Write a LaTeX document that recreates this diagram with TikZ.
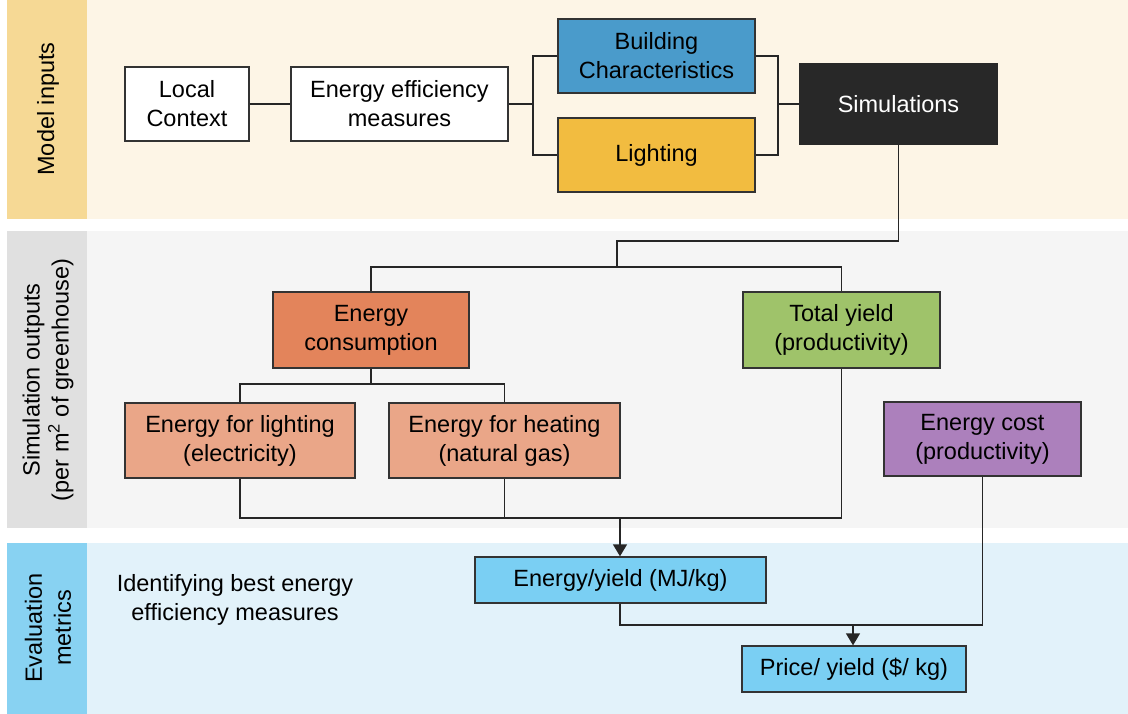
\documentclass[tikz,border=0pt]{standalone}
\usepackage{fontspec}
\setmainfont{Liberation Sans}
\usetikzlibrary{arrows.meta}
\definecolor{bandAmain}{HTML}{FDF5E6}
\definecolor{bandAstrip}{HTML}{F6D995}
\definecolor{bandBmain}{HTML}{F5F5F5}
\definecolor{bandBstrip}{HTML}{E0E0E0}
\definecolor{bandCmain}{HTML}{E2F2FA}
\definecolor{bandCstrip}{HTML}{88D2F2}
\definecolor{cBlue}{HTML}{4A9BCB}
\definecolor{cYellow}{HTML}{F2BC40}
\definecolor{cBlack}{HTML}{282828}
\definecolor{cOrange}{HTML}{E3845B}
\definecolor{cSalmon}{HTML}{EAA688}
\definecolor{cGreen}{HTML}{9FC36A}
\definecolor{cPurple}{HTML}{AC80BC}
\definecolor{cSky}{HTML}{7ACFF3}
\definecolor{cEdge}{HTML}{333333}
\tikzset{
  box/.style={draw=cEdge, line width=1.3pt, align=center, inner sep=0pt,
    font=\fontsize{23.5pt}{29pt}\selectfont, text=black},
  conn/.style={draw=black!85, line width=1.4pt},
  arr/.style={conn, -{Triangle[width=14pt,length=12pt]}},
  bandlabel/.style={rotate=90, align=center, font=\fontsize{23.5pt}{29pt}\selectfont},
  plaintext/.style={align=center, font=\fontsize{23.5pt}{29pt}\selectfont}
}
\begin{document}
\begin{tikzpicture}[x=1pt,y=-1pt]
\useasboundingbox (0,0) rectangle (1128,714);
\fill[white] (0,0) rectangle (1128,714);
% bands
\fill[bandAmain] (87,0) rectangle (1128,219);
\fill[bandAstrip] (7,0) rectangle (87,219);
\fill[bandBmain] (87,231) rectangle (1128,528);
\fill[bandBstrip] (7,231) rectangle (87,528);
\fill[bandCmain] (87,543) rectangle (1128,714);
\fill[bandCstrip] (7,543) rectangle (87,714);
\node[bandlabel] (lblA) at (48,109) {Model inputs};
\node[bandlabel] (lblB) at (48,380) {Simulation outputs\\(per m\textsuperscript{2} of greenhouse)};
\node[bandlabel] (lblC) at (48,628) {Evaluation\\metrics};
\node[plaintext] (ident) at (235,600) {Identifying best energy\\efficiency measures};
% nodes
\node[box, fill=white, minimum width=124pt, minimum height=74pt] (lc) at (187,104) {Local\\Context};
\node[box, fill=white, minimum width=217pt, minimum height=74pt] (eem) at (399.5,104) {Energy efficiency\\measures};
\node[box, fill=cBlue, minimum width=197pt, minimum height=74pt] (bc) at (656.5,56) {Building\\Characteristics};
\node[box, fill=cYellow, minimum width=197pt, minimum height=74pt] (li) at (656.5,155) {Lighting};
\node[box, fill=cBlack, draw=cBlack, text=white, minimum width=197pt, minimum height=80pt] (sim) at (898.5,104) {Simulations};
\node[box, fill=cOrange, minimum width=196pt, minimum height=76pt] (ec) at (371,330) {Energy\\consumption};
\node[box, fill=cGreen, minimum width=197pt, minimum height=76pt] (ty) at (841.5,330) {Total yield\\(productivity)};
\node[box, fill=cSalmon, minimum width=230pt, minimum height=75pt] (el) at (240,440.5) {Energy for lighting\\(electricity)};
\node[box, fill=cSalmon, minimum width=231pt, minimum height=75pt] (eh) at (504.5,440.5) {Energy for heating\\(natural gas)};
\node[box, fill=cPurple, minimum width=197pt, minimum height=74pt] (ecost) at (982.5,439) {Energy cost\\(productivity)};
\node[box, fill=cSky, minimum width=291pt, minimum height=46pt] (ey) at (620.5,580) {Energy/yield (MJ/kg)};
\node[box, fill=cSky, minimum width=224pt, minimum height=46pt] (py) at (854,669) {Price/ yield (\$/ kg)};
% coordinates
\coordinate (j1) at (533,104);
\coordinate (j2) at (778,104);
\coordinate (j3) at (617,241);
\coordinate (j4) at (617,267);
\coordinate (j5) at (371,384);
\coordinate (j6) at (620,518);
\coordinate (j7) at (853,625);
% connectors
\draw[conn] (lc.east) -- (eem.west);
\draw[conn] (eem.east) -- (j1);
\draw[conn] (bc.west) -| (j1) |- (li.west);
\draw[conn] (bc.east) -| (j2) |- (li.east);
\draw[conn] (j2) -- (sim.west);
\draw[conn] (sim.south) |- (j3) -- (j4);
\draw[conn] (ec.north) |- (j4) -| (ty.north);
\draw[conn] (ec.south) -- (j5);
\draw[conn] (el.north) |- (j5) -| (eh.north);
\draw[conn] (el.south) |- (j6);
\draw[conn] (eh.south) |- (j6);
\draw[conn] (ty.south) |- (j6);
\draw[arr] (j6) -- (j6 |- ey.north);
\draw[conn] (ey.south -| j6) |- (j7);
\draw[conn] (ecost.south) |- (j7);
\draw[arr] (j7) -- (j7 |- py.north);
\end{tikzpicture}
\end{document}
